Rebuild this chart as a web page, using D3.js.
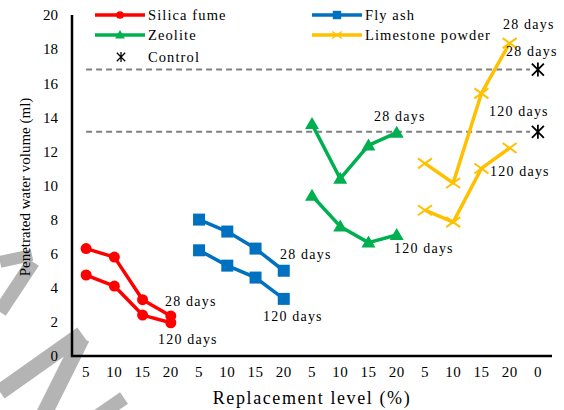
<!DOCTYPE html>
<html><head><meta charset="utf-8">
<script src="https://cdn.jsdelivr.net/npm/d3@7"></script>
<style>body{margin:0;background:#fff}svg{display:block}text{font-family:"Liberation Serif","Times New Roman",serif}</style>
</head><body>
<svg id="c" width="564" height="410"></svg>
<script>
const xLabels = ["5","10","15","20","5","10","15","20","5","10","15","20","5","10","15","20","0"];
const yTicks = [0,2,4,6,8,10,12,14,16,18,20];
const silica28 = [6.3,5.8,3.3,2.35];
const silica120 = [4.75,4.1,2.4,1.95];
const fly28 = [8.0,7.3,6.3,5.0];
const fly120 = [6.2,5.3,4.6,3.35];
const zeo28 = [13.6,10.4,12.35,13.1];
const zeo120 = [9.4,7.6,6.65,7.1];
const lime28 = [11.3,10.15,15.4,18.35];
const lime120 = [8.55,7.85,11.0,12.2];
const control = [16.8,13.15];
const seriesNames = ["Silica fume","Fly ash","Zeolite","Limestone powder","Control"];
const colors = ["#FF0000","#0070C0","#00B050","#FFC000","#000000"];

const svg = d3.select("#c");
const L=72,R=552,T=15,B=356;
const x = d3.scaleBand().domain(d3.range(xLabels.length)).range([L,R]);
const cx = i => x(i)+x.bandwidth()/2;
const y = d3.scaleLinear().domain([0,20]).range([B,T]);

// watermark
const wm = svg.append("g").attr("stroke","#b4b4b4").attr("fill","none").attr("stroke-linecap","butt");
[[[0,262],[32,255],12],[[0,312],[33,262],14],[[0,392],[82,334],16],[[82,338],[44,414],16],[[124,398],[98,416],14]]
 .forEach(([a,b,w])=>wm.append("line").attr("x1",a[0]).attr("y1",a[1]).attr("x2",b[0]).attr("y2",b[1]).attr("stroke-width",w));

// y axis labels
const ya = svg.append("g").attr("transform",`translate(${L},0)`)
  .call(d3.axisLeft(y).tickValues(yTicks).tickSize(0).tickPadding(14));
ya.select(".domain").remove();
ya.selectAll("text").attr("font-size",15).attr("fill","#000");
// x axis labels
const xa = svg.append("g").attr("transform",`translate(0,${B})`)
  .call(d3.axisBottom(x).tickFormat(i=>xLabels[i]).tickSize(0).tickPadding(10));
xa.select(".domain").remove();
xa.selectAll("text").attr("font-size",15).attr("letter-spacing",0.5).attr("fill","#000");

// dashed control lines
control.forEach(v=>svg.append("line").attr("x1",cx(0)).attr("x2",530).attr("y1",y(v)).attr("y2",y(v))
  .attr("stroke","#808080").attr("stroke-width",2).attr("stroke-dasharray","6,4"));

// axes lines
svg.append("path").attr("d",`M${L},${T}V${B}H${R}`).attr("fill","none").attr("stroke","#000").attr("stroke-width",2.5);

const line = d3.line().x(d=>cx(d.i)).y(d=>y(d.v));
function marker(g,type,color,px,py){
  if(type==="circle") g.append("circle").attr("cx",px).attr("cy",py).attr("r",5.5).attr("fill",color);
  else if(type==="square") g.append("rect").attr("x",px-6).attr("y",py-6).attr("width",12).attr("height",12).attr("fill",color);
  else if(type==="triangle") g.append("path").attr("d",`M${px},${py-7}L${px+7},${py+5}L${px-7},${py+5}Z`).attr("fill",color);
  else if(type==="x") g.append("path").attr("d",`M${px-7},${py-5}L${px+7},${py+5}M${px-7},${py+5}L${px+7},${py-5}`).attr("stroke",color).attr("stroke-width",2);
  else if(type==="ast") g.append("path").attr("d",`M${px-6},${py-6}L${px+6},${py+6}M${px-6},${py+6}L${px+6},${py-6}M${px},${py-7}L${px},${py+7}`).attr("stroke",color).attr("stroke-width",1.8);
}
const groups = [
  [silica28,silica120,0,"circle"],[fly28,fly120,1,"square"],[zeo28,zeo120,2,"triangle"],[lime28,lime120,3,"x"]
];
groups.forEach(([a,b,k,type])=>{
  [a,b].forEach(arr=>{
    const pts = arr.map((v,j)=>({i:k*4+j,v}));
    const g = svg.append("g");
    g.append("path").attr("d",line(pts)).attr("fill","none").attr("stroke",colors[k]).attr("stroke-width",3.5).attr("stroke-linejoin","round");
    pts.forEach(p=>marker(g,type,colors[k],cx(p.i),y(p.v)));
  });
});
control.forEach(v=>marker(svg,"ast","#000",cx(16),y(v)));

// day labels
const lab = svg.append("g").attr("font-size",14).attr("letter-spacing",1.2).attr("fill","#000");
[["28 days",165,306],["120 days",158,344],["28 days",280,259],["120 days",263,321],
 ["28 days",374,121],["120 days",394,253],["28 days",503,29],["28 days",506,56],
 ["120 days",489,116],["120 days",490,176]].forEach(([t,px,py])=>lab.append("text").attr("x",px).attr("y",py).text(t));

// legend
const lg = svg.append("g").attr("font-size",14.5).attr("letter-spacing",1.1);
const leg = [[0,95,15,"circle"],[1,312,15,"square"],[2,95,35,"triangle"],[3,312,35,"x"]];
leg.forEach(([k,lx,ly,type])=>{
  lg.append("line").attr("x1",lx).attr("x2",lx+50).attr("y1",ly).attr("y2",ly).attr("stroke",colors[k]).attr("stroke-width",3.5);
  const gg = lg.append("g").attr("transform",`translate(${lx+25},${ly}) scale(0.7) translate(${-(lx+25)},${-ly})`);
  marker(gg,type,colors[k],lx+25,ly);
  lg.append("text").attr("x",lx+53).attr("y",ly+5).text(seriesNames[k]);
});
const cg = lg.append("g").attr("transform",`translate(121,57) scale(0.7) translate(-121,-57)`);
marker(cg,"ast","#000",121,57);
lg.append("text").attr("x",148).attr("y",62).text(seriesNames[4]);

// titles
svg.append("text").attr("transform","translate(30,187) rotate(-90)").attr("text-anchor","middle").attr("font-size",15).text("Penetrated water volume  (ml)");
svg.append("text").attr("x",312).attr("y",404).attr("text-anchor","middle").attr("font-size",18).attr("letter-spacing",1.6).text("Replacement level (%)");
</script>
</body></html>
